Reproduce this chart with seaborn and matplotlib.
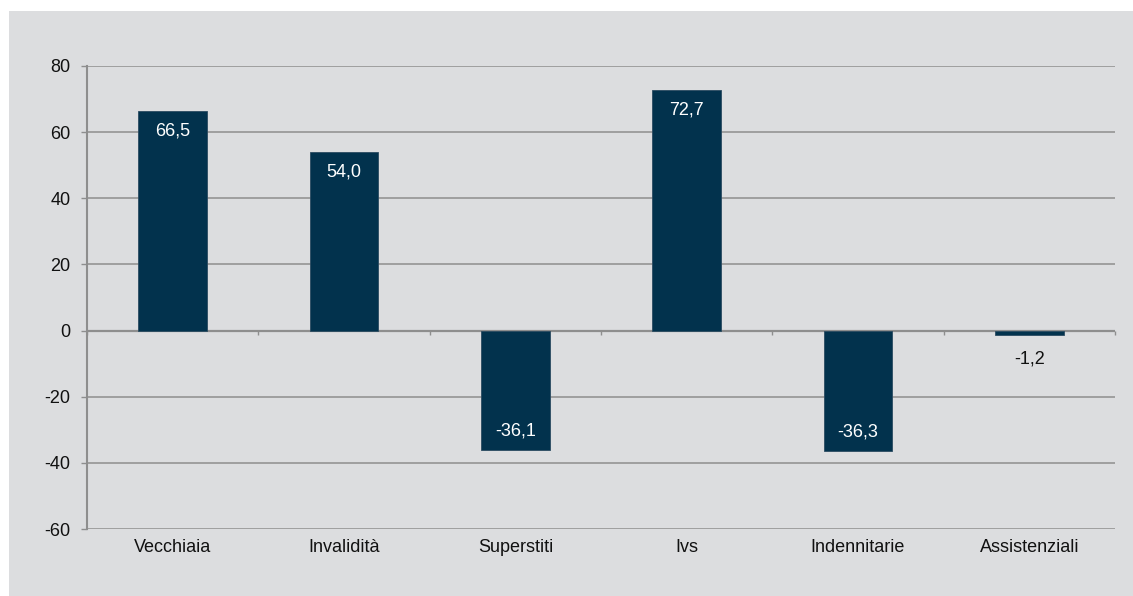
import matplotlib
matplotlib.use("Agg")
import matplotlib.pyplot as plt
import matplotlib.patches as mpatches
import seaborn as sns
import pandas as pd

categories = ["Vecchiaia", "Invalidità", "Superstiti", "Ivs", "Indennitarie", "Assistenziali"]
values = [66.5, 54.0, -36.1, 72.7, -36.3, -1.2]
y_ticks = [-60, -40, -20, 0, 20, 40, 60, 80]

BAR = "#02324d"
GRID = "#8e8e8e"
BG = "#dcdddf"
TXT = "#111111"
FS = 13

sns.set_theme(style="white")
plt.rcParams["font.family"] = ["Liberation Sans", "DejaVu Sans"]

fig = plt.figure(figsize=(11.33, 5.96), dpi=100)
fig.patch.set_facecolor("white")
fig.patches.append(mpatches.Rectangle((9 / 1133, 0), 1.0, 1 - 11 / 596,
                                      transform=fig.transFigure, facecolor=BG,
                                      edgecolor="none", zorder=-10))

ax = fig.add_axes([87 / 1133, 1 - 529 / 596, (1115 - 87) / 1133, (529 - 66) / 596])
ax.set_facecolor("none")

df = pd.DataFrame({"cat": categories, "val": values})
sns.barplot(data=df, x="cat", y="val", color=BAR, width=0.4, ax=ax,
            edgecolor="#2b4b61", linewidth=0.6, saturation=1, zorder=3)

ax.set_xlim(-0.5, len(categories) - 0.5)
ax.set_ylim(min(y_ticks), max(y_ticks))
ax.set_yticks(y_ticks)
ax.set_yticklabels([str(t) for t in y_ticks], fontsize=FS, color=TXT)
ax.set_xticks(range(len(categories)))
ax.set_xticklabels(categories, fontsize=FS, color=TXT)
ax.set_xlabel("")
ax.set_ylabel("")

ax.grid(axis="y", color=GRID, linewidth=1.1, zorder=1)
ax.grid(axis="x", visible=False)
for s in ["top", "right", "bottom"]:
    ax.spines[s].set_visible(False)
ax.spines["left"].set_color(GRID)
ax.spines["left"].set_linewidth(1.5)
ax.tick_params(axis="y", length=4, width=1, color=GRID, pad=8, left=True)
ax.tick_params(axis="x", length=0, pad=7)

# zero axis with category boundary ticks
ax.axhline(0, color=GRID, linewidth=1.6, zorder=2)
frac0 = (0 - min(y_ticks)) / (max(y_ticks) - min(y_ticks))
sec = ax.secondary_xaxis(frac0)
sec.set_xticks([i - 0.5 for i in range(len(categories) + 1)])
sec.set_xticklabels([])
sec.tick_params(axis="x", direction="out", length=3, width=1, color=GRID, top=False, bottom=True)
for s in sec.spines.values():
    s.set_visible(False)

# value labels
for i, v in enumerate(values):
    lab = f"{v:.1f}".replace(".", ",")
    if abs(v) > 5:
        off = -20 if v > 0 else 19
        ax.annotate(lab, (i, v), xytext=(0, off * 0.72), textcoords="offset points",
                    ha="center", va="center", color="white", fontsize=FS, zorder=4)
    else:
        ax.annotate(lab, (i, v), xytext=(0, -24 * 0.72), textcoords="offset points",
                    ha="center", va="center", color=TXT, fontsize=FS, zorder=4)

fig.savefig("out.png", dpi=100, facecolor=fig.get_facecolor())
